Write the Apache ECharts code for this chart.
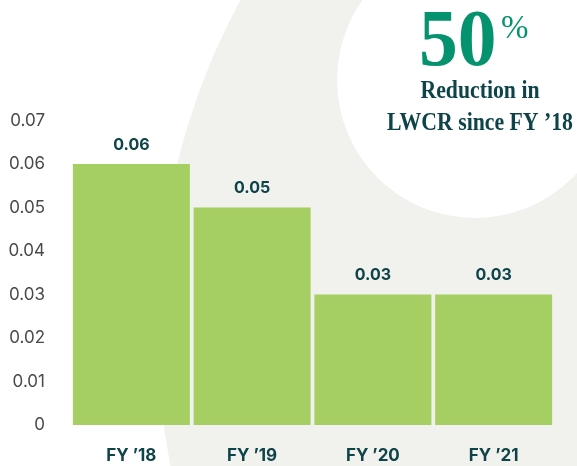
<!DOCTYPE html>
<html>
<head>
<meta charset="utf-8">
<script src="https://cdn.jsdelivr.net/npm/echarts@6/dist/echarts.min.js"></script>
<style>
  html, body { margin: 0; padding: 0; background: #fff; }
  #chart { width: 577px; height: 466px; }
</style>
</head>
<body>
<div id="chart"></div>
<script>
// LWCR by fiscal year
const years = ["FY \u201918", "FY \u201919", "FY \u201920", "FY \u201921"];
const lwcr = [0.06, 0.05, 0.03, 0.03];
const yTicks = [0, 0.01, 0.02, 0.03, 0.04, 0.05, 0.06, 0.07];

const barGreen = '#a5cf63';
const darkTeal = '#0e4449';

const chart = echarts.init(document.getElementById('chart'), null, { renderer: 'canvas' });

chart.setOption({
  animation: false,
  backgroundColor: '#ffffff',
  grid: { left: 71, right: 23, top: 120.5, bottom: 41, containLabel: false },
  graphic: [
    // big grey disc in the background
    { type: 'circle', z: -10, silent: true,
      shape: { cx: 852, cy: 330, r: 695 },
      style: { fill: '#f1f1ed' } },
    // white callout disc
    { type: 'circle', z: -9, silent: true,
      shape: { cx: 475, cy: 80, r: 138 },
      style: { fill: '#ffffff' } },
    { type: 'text', z: 5, x: 419, y: 4, scaleX: 0.97,
      style: { text: '50', font: 'bold 80px "Liberation Serif"', fill: '#05936f' } },
    { type: 'text', z: 5, x: 501, y: 13,
      style: { text: '%', font: '33px "Liberation Serif"', fill: '#05936f' } },
    { type: 'text', z: 5, x: 480, y: 92, scaleX: 0.87,
      style: { text: 'Reduction in', font: 'bold 25px "Liberation Serif"', fill: darkTeal,
               align: 'center', verticalAlign: 'middle' } },
    { type: 'text', z: 5, x: 480, y: 124, scaleX: 0.87,
      style: { text: 'LWCR since FY \u201918', font: 'bold 25px "Liberation Serif"', fill: darkTeal,
               align: 'center', verticalAlign: 'middle' } }
  ],
  xAxis: {
    type: 'category',
    data: years,
    axisLine: { show: false },
    axisTick: { show: false },
    axisLabel: { margin: 22, color: darkTeal, fontFamily: 'Inter', fontWeight: 'bold', fontSize: 17 }
  },
  yAxis: {
    type: 'value',
    min: 0,
    max: 0.07,
    interval: 0.01,
    splitLine: { show: false },
    axisLine: { show: false },
    axisTick: { show: false },
    axisLabel: {
      margin: 26, color: '#4a4a4a', fontFamily: 'Inter', fontSize: 17,
      formatter: v => { const t = yTicks.find(x => Math.abs(x - v) < 1e-9); return t === 0 ? '0' : (t !== undefined ? t.toFixed(2) : ''); }
    }
  },
  series: [{
    type: 'bar',
    data: lwcr,
    barWidth: 117,
    itemStyle: { color: barGreen },
    label: {
      show: true, position: 'top', distance: 11,
      color: darkTeal, fontFamily: 'Inter', fontWeight: 'bold', fontSize: 16,
      formatter: p => p.value.toFixed(2)
    }
  }]
});
</script>
</body>
</html>
